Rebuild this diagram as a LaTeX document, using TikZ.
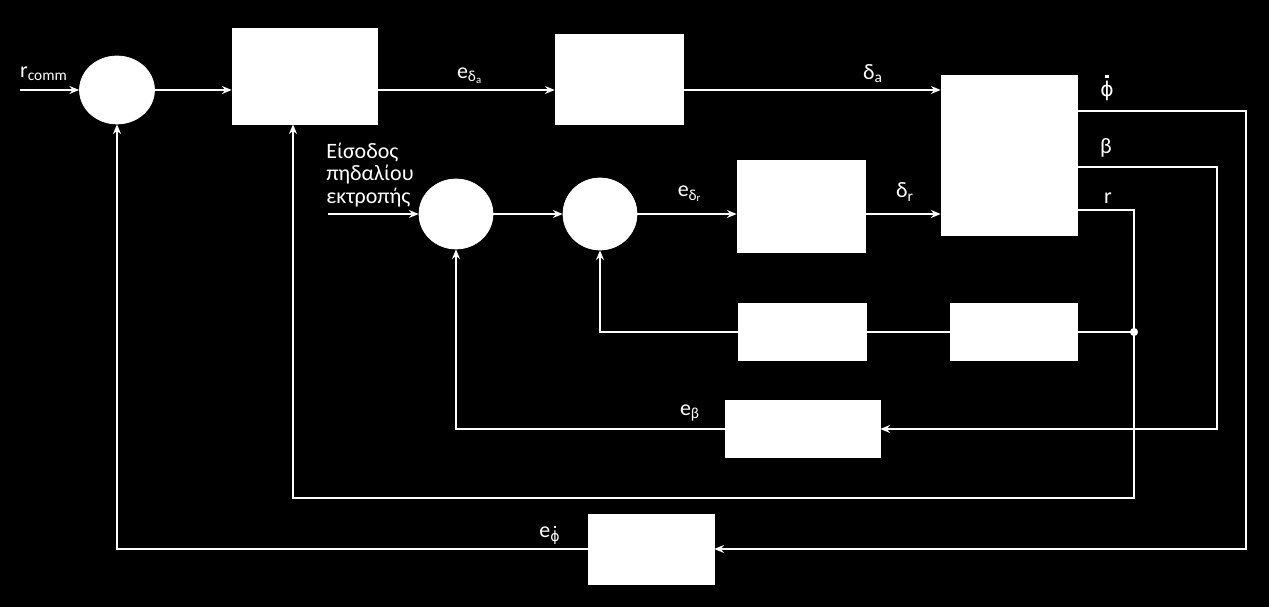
\documentclass[tikz,border=0pt]{standalone}
\usepackage{fontspec}
\setmainfont{Carlito}
\newfontfamily\phifont{DejaVu Sans}
\usepackage{tikz}
\usetikzlibrary{positioning, arrows.meta, shapes.geometric}

\tikzset{
  blk/.style={draw=white, fill=white, inner sep=0pt},
  sumnode/.style={ellipse, draw=white, fill=white, inner sep=0pt},
  sig/.style={white, line width=1pt},
  sigarr/.style={sig, -{Stealth[length=5.5pt,width=4.5pt]}},
  lbl/.style={text=white, font=\fontsize{12.5}{12.8}\selectfont, inner sep=0pt},
}
\newcommand{\phidot}{{\phifont\scalebox{0.92}{\ooalign{ϕ\cr\hidewidth\raisebox{0.92em}{\rule{0.15em}{0.15em}}\hidewidth\cr}}}}

\begin{document}
\begin{tikzpicture}[x=0.02cm, y=-0.02cm]
    % background
    \fill[black] (0,0) rectangle (1269,607);
    \useasboundingbox (0,0) rectangle (1269,607);

    % summing points
    \node[sumnode, minimum width=1.5cm, minimum height=1.36cm] (sum1) at (117,90) {};
    \node[sumnode, minimum width=1.48cm, minimum height=1.4cm] (sum2) at (456,214) {};
    \node[sumnode, minimum width=1.48cm, minimum height=1.44cm] (sum3) at (600,214) {};

    % blocks
    \node[blk, minimum width=2.9cm, minimum height=1.92cm] (ctrl) at (304.5,76) {};
    \node[blk, minimum width=2.56cm, minimum height=1.8cm] (act_a) at (619,79) {};
    \node[blk, minimum width=2.72cm, minimum height=3.2cm] (plant) at (1009,155) {};
    \node[blk, minimum width=2.56cm, minimum height=1.84cm] (act_r) at (801,206) {};
    \node[blk, minimum width=2.56cm, minimum height=1.14cm] (fb1) at (802,332) {};
    \node[blk, minimum width=2.54cm, minimum height=1.14cm] (fb2) at (1013.5,332) {};
    \node[blk, minimum width=3.1cm, minimum height=1.14cm] (kbeta) at (802.5,429) {};
    \node[blk, minimum width=2.52cm, minimum height=1.4cm] (kphi) at (651,549) {};

    % labels
    \node[lbl] (l_rc) at (44,74) {r\textsubscript{comm}};
    \node[lbl] (l_eda) at (470,76) {e\textsubscript{δ\textsubscript{a}}};
    \node[lbl] (l_da) at (873,74) {δ\textsubscript{a}};
    \node[lbl, align=left] (l_in) at (370,175) {Είσοδος\\πηδαλίου\\εκτροπής};
    \node[lbl] (l_edr) at (690,194) {e\textsubscript{δ\textsubscript{r}}};
    \node[lbl] (l_dr) at (905,192) {δ\textsubscript{r}};
    \node[lbl] (l_phi) at (1107,89) {\phidot};
    \node[lbl] (l_beta) at (1106,148) {β};
    \node[lbl] (l_r) at (1108,198) {r};
    \node[lbl] (l_eb) at (690,413) {e\textsubscript{β}};
    \node[lbl] (l_ep) at (550,534) {e\textsubscript{\phidot}};

    % corner points
    \coordinate (in_c) at (20,90);
    \coordinate (in_r) at (328,214);
    \coordinate (phi_c) at (1246,111);
    \coordinate (beta_c) at (1217,167);
    \coordinate (r_c) at (1134,210);
    \coordinate (r_d) at (1134,498);
    \coordinate (jn) at (r_c |- fb2);

    % roll channel
    \draw[sigarr] (in_c) -- (sum1.west);
    \draw[sigarr] (sum1.east) -- (sum1.east -| ctrl.west);
    \draw[sigarr] (sum1 -| ctrl.east) -- (sum1 -| act_a.west);
    \draw[sigarr] (sum1 -| act_a.east) -- (sum1 -| plant.west);

    % yaw channel
    \draw[sigarr] (in_r) -- (sum2.west);
    \draw[sigarr] (sum2.east) -- (sum3.west);
    \draw[sigarr] (sum3.east) -- (sum3.east -| act_r.west);
    \draw[sigarr] (sum3 -| act_r.east) -- (sum3 -| plant.west);

    % feedback paths
    \draw[sigarr] (phi_c -| plant.east) -- (phi_c) |- (kphi.east);
    \draw[sigarr] (beta_c -| plant.east) -- (beta_c) |- (kbeta.east);
    \draw[sigarr] (r_c -| plant.east) -- (r_c) -- (r_d) -| ([xshift=-0.23cm]ctrl.south);
    \draw[sig] (jn) -- (fb2.east);
    \draw[sig] (fb2.west) -- (fb1.east);
    \draw[sigarr] (fb1.west) -| (sum3.south);
    \draw[sigarr] (kbeta.west) -| (sum2.south);
    \draw[sigarr] (kphi.west) -| (sum1.south);
    \fill[white] (jn) circle (2.3pt);

\end{tikzpicture}
\end{document}
